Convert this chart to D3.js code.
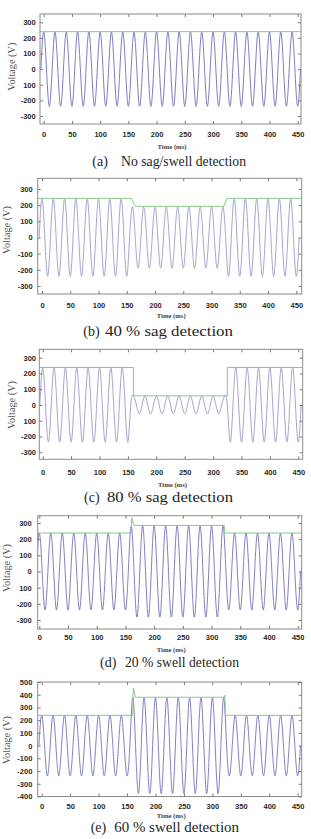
<!DOCTYPE html>
<html>
<head>
<meta charset="utf-8">
<script src="https://cdn.jsdelivr.net/npm/d3@7"></script>
<style>
  body { margin: 0; background: #fff; }
  svg { display: block; }
  .tick text { font-family: "Liberation Sans", Arial, sans-serif; font-weight: bold; font-size: 7.5px; fill: #2a2a2a; }
  .tick line { stroke: #777; }
  .domain { display: none; }
</style>
</head>
<body>
<svg id="chart" width="311" height="839"></svg>
<script>
// ---- data ----
var timeTicks = [0, 50, 100, 150, 200, 250, 300, 350, 400, 450];
var voltTicks = [300, 200, 100, 0, -100, -200, -300];
var voltLabelsNoMinus = ["300", "200", "100", "0", "100", "-200", "-300"];
var voltLabels = ["300", "200", "100", "0", "-100", "-200", "-300"];
var voltTicksE = [500, 400, 300, 200, 100, 0, -100, -200, -300, -400];
var voltLabelsE = ["500", "400", "300", "200", "100", "0", "-100", "-200", "-300", "-400"];

// event window (ms) and 50 Hz supply -> extremum every 10 ms
var eventStart = 160, eventEnd = 325;
var waveStart = -5, waveEnd = 455, halfPeriod = 10;

// peak voltage before / during / after the event
var ampA = [238, 238, 238];
var ampB = [240, 190, 240];
var ampC = [236, 56, 236];
var ampD = [238, 282, 238];
var ampE = [238, 378, 238];

// detected amplitude (green) [ms, V]
var detA = [[-8, 240], [460, 240]];
var detB = [[-8, 242], [158, 242], [165, 193], [322, 193], [327, 242], [460, 242]];
var detC = [[-8, 238], [160, 238], [160, 58], [325, 58], [325, 238], [460, 238]];
var detD = [[-8, 238], [160, 238], [161, 332], [165, 285], [322, 285], [323, 238], [460, 238]];
var detE = [[-8, 238], [160, 238], [161, 452], [165, 380], [321, 380], [322, 395], [323, 238], [460, 238]];

var captionKeys = ["(a)", "(b)", "(c)", "(d)", "(e)"];
var captionTexts = ["No sag/swell detection", "40 % sag detection", "80 % sag detection",
                    "20 % swell detection", "60 % swell detection"];

// ---- layout (pixels) ----
var panels = [
  {amp: ampA, det: detA, ticks: voltTicks, labels: voltLabelsNoMinus, wave: "#6c6cbd",
   box: [40, 14, 301, 124], xPx: [43.7, 297.7], yPx: [22.3, 116], yVal: [300, -300],
   padX: 8.1, padY: 4.3, timeY: 146.7, voltX: 11.7, voltY: 66.7, cap: [92.3, 121, 246, 165.5]},
  {amp: ampB, det: detB, ticks: voltTicks, labels: voltLabels, wave: "#9a9acb",
   box: [37.7, 178.3, 301.7, 294], xPx: [42, 296.3], yPx: [189, 286], yVal: [300, -300],
   padX: 8.4, padY: 5, timeY: 316, voltX: 6.7, voltY: 230, cap: [83.3, 105, 233, 335.5]},
  {amp: ampC, det: detC, ticks: voltTicks, labels: voltLabelsNoMinus, wave: "#9a9acb",
   box: [39.3, 349.3, 302.7, 459.3], xPx: [42.7, 298.3], yPx: [357.7, 452.3], yVal: [300, -300],
   padX: 10.4, padY: 3.3, timeY: 484.3, voltX: 11.7, voltY: 405, cap: [84, 107, 233, 502.2]},
  {amp: ampD, det: detD, ticks: voltTicks, labels: voltLabelsNoMinus, wave: "#7070c0",
   box: [37.7, 515.7, 301.7, 629], xPx: [39.3, 297.7], yPx: [523, 620], yVal: [300, -300],
   padX: 6.1, padY: 6, timeY: 650, voltX: 6.3, voltY: 568, cap: [100, 125, 239, 666.5]},
  {amp: ampE, det: detE, ticks: voltTicksE, labels: voltLabelsE, wave: "#7070c0",
   box: [37.7, 682, 301.7, 796.5], xPx: [41.7, 297.7], yPx: [682, 796.5], yVal: [500, -400],
   padX: 7.6, padY: 5.4, timeY: 815.7, voltX: 6.3, voltY: 740, cap: [90.7, 114.3, 239, 832.2]}
];

var svg = d3.select("#chart");

// extremum / zero-crossing points of the waveform built from the amplitude table
function wavePoints(amp) {
  var pts = [];
  for (var t = waveStart; t <= waveEnd; t += halfPeriod / 2) {
    if (t % halfPeriod !== 0) { pts.push([t, 0]); continue; }
    var a = t < eventStart ? amp[0] : (t < eventEnd ? amp[1] : amp[2]);
    var sign = (Math.round(t / halfPeriod) % 2 === 0) ? 1 : -1;
    pts.push([t, sign * a]);
  }
  return pts;
}

panels.forEach(function (p, i) {
  var left = p.box[0], top = p.box[1], right = p.box[2], bottom = p.box[3];
  var x = d3.scaleLinear().domain([0, 450]).range(p.xPx);
  var y = d3.scaleLinear().domain(p.yVal).range(p.yPx);

  var g = svg.append("g");

  svg.append("clipPath").attr("id", "clip" + i)
    .append("rect").attr("x", left).attr("y", top)
    .attr("width", right - left).attr("height", bottom - top);

  var plot = g.append("g").attr("clip-path", "url(#clip" + i + ")");

  var line = d3.line().x(function (d) { return x(d[0]); }).y(function (d) { return y(d[1]); });

  plot.append("path")
    .datum(wavePoints(p.amp))
    .attr("d", line.curve(d3.curveNatural))
    .attr("fill", "none").attr("stroke", p.wave).attr("stroke-width", 0.9);

  plot.append("path")
    .datum(p.det)
    .attr("d", line.curve(d3.curveLinear))
    .attr("fill", "none").attr("stroke", "#86c986").attr("stroke-width", 1);

  // axes: ticks pointing inward on all four sides
  g.append("g").attr("transform", "translate(0," + bottom + ")")
    .call(d3.axisBottom(x).tickValues(timeTicks).tickSizeInner(-3).tickSizeOuter(0).tickPadding(p.padX));
  g.append("g").attr("transform", "translate(0," + top + ")")
    .call(d3.axisTop(x).tickValues(timeTicks).tickSizeInner(-3).tickSizeOuter(0).tickFormat(""));
  g.append("g").attr("transform", "translate(" + left + ",0)")
    .call(d3.axisLeft(y).tickValues(p.ticks).tickSizeInner(-3).tickSizeOuter(0).tickPadding(p.padY)
      .tickFormat(function (d, k) { return p.labels[k]; }));
  g.append("g").attr("transform", "translate(" + right + ",0)")
    .call(d3.axisRight(y).tickValues(p.ticks).tickSizeInner(-3).tickSizeOuter(0).tickFormat(""));

  g.append("rect")
    .attr("x", left).attr("y", top).attr("width", right - left).attr("height", bottom - top)
    .attr("fill", "none").attr("stroke", "#8a8a8a").attr("stroke-width", 1);

  g.append("text")
    .attr("x", (left + right) / 2 + 1.5).attr("y", p.timeY).attr("dy", "0.35em")
    .attr("text-anchor", "middle")
    .attr("textLength", 29).attr("lengthAdjust", "spacingAndGlyphs")
    .style("font-family", "'Liberation Serif', 'Times New Roman', serif")
    .style("font-weight", "bold").style("font-size", "7px").style("fill", "#444")
    .text("Time (ms)");

  g.append("text")
    .attr("transform", "translate(" + p.voltX + "," + p.voltY + ") rotate(-90)")
    .attr("dy", "0.35em").attr("text-anchor", "middle")
    .attr("textLength", 48).attr("lengthAdjust", "spacingAndGlyphs")
    .style("font-family", "'Liberation Serif', 'Times New Roman', serif")
    .style("font-size", "10px").style("fill", "#555")
    .text("Voltage (V)");

  var capStyle = function (s) {
    s.style("font-family", "'Liberation Serif', 'Times New Roman', serif")
     .style("font-size", "14px").style("fill", "#1e1e1e");
  };
  g.append("text").attr("x", p.cap[0]).attr("y", p.cap[3]).call(capStyle).text(captionKeys[i]);
  g.append("text").attr("x", p.cap[1]).attr("y", p.cap[3])
    .attr("textLength", p.cap[2] - p.cap[1]).attr("lengthAdjust", "spacingAndGlyphs")
    .call(capStyle).text(captionTexts[i]);
});
</script>
</body>
</html>
